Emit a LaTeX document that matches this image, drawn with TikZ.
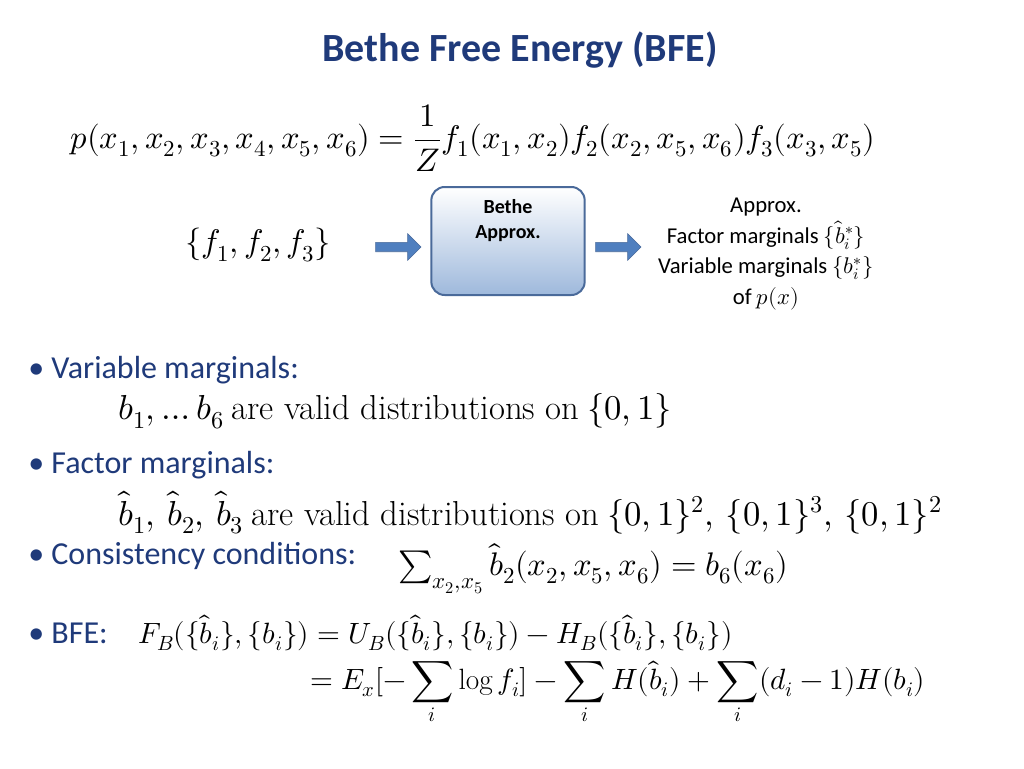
\documentclass[tikz,border=0pt]{standalone}
\usepackage{amsmath,amssymb}
\usepackage{fontspec}
\setmainfont{Carlito}
\usepackage{unicode-math}
\setmathfont{Latin Modern Math}
\setmathrm{Latin Modern Roman}
\newfontfamily\lmr{Latin Modern Roman}
\usetikzlibrary{shapes.arrows}
\definecolor{navy}{HTML}{1F3A7A}
\definecolor{boxedge}{HTML}{4A6A9A}
\definecolor{arr}{HTML}{4F7FBF}
\begin{document}
\begin{tikzpicture}[x=0.75pt,y=-0.75pt,
  mth/.style={anchor=west,inner sep=0pt,font=\fontsize{24.5}{28}\selectfont},
  mthb/.style={anchor=west,inner sep=0pt,font=\fontsize{26}{30}\selectfont},
  mths/.style={anchor=west,inner sep=0pt,font=\fontsize{22}{26}\selectfont},
  txt/.style={anchor=west,inner sep=0pt,font=\fontsize{24}{28}\selectfont,text=navy},
  small/.style={inner sep=0pt,font=\fontsize{17}{21}\selectfont},
  barrow/.style={single arrow,fill=arr,draw=boxedge,minimum height=34pt,minimum width=20pt,single arrow head extend=4pt,inner sep=2pt}]
\useasboundingbox (0,0) rectangle (1024,768);
\node[inner sep=0pt,text=navy,font=\bfseries\fontsize{30}{34}\selectfont] (title) at (520,50) {Bethe Free Energy (BFE)};
\node[mth] (p) at (70,138) {$p(x_1,x_2,x_3,x_4,x_5,x_6)=\dfrac{1}{Z}f_1(x_1,x_2)f_2(x_2,x_5,x_6)f_3(x_3,x_5)$};
\node[mth] (f) at (185,245) {$\{f_1,f_2,f_3\}$};
\node[draw=boxedge,line width=1.5pt,rounded corners=10pt,top color=white,bottom color=arr!55,minimum width=115pt,minimum height=81pt,align=center,font=\bfseries\fontsize{15}{19}\selectfont] (box) at (508,241) {Bethe\\Approx.\\[14pt]};
\node[barrow] (a1) at (396,247) {};
\node[barrow] (a2) at (616,247) {};
\node[small,align=center] (out) at (766,254) {Approx.\\[2pt]Factor marginals $\{\hat b_i^*\}$\\[2pt]Variable marginals $\{b_i^*\}$\\[2pt]of $p(x)$};
\node[txt] (v) at (28,370) {\textbullet\ Variable marginals:};
\node[mthb] (v2) at (118,411) {$b_1,\ldots b_6$ {\lmr are valid distributions on} $\{0,1\}$};
\node[txt] (fm) at (28,465) {\textbullet\ Factor marginals:};
\node[mthb] (fm2) at (118,513) {$\hat b_1,\,\hat b_2,\,\hat b_3$ {\lmr are valid distributions on} $\{0,1\}^2,\,\{0,1\}^3,\,\{0,1\}^2$};
\node[txt] (c) at (28,556) {\textbullet\ Consistency conditions:};
\node[mth] (c2) at (398,569) {$\sum_{x_2,x_5}\hat b_2(x_2,x_5,x_6)=b_6(x_6)$};
\node[txt] (b) at (28,633) {\textbullet\ BFE:};
\node[mths] (b1) at (138,633) {$F_B(\{\hat b_i\},\{b_i\})=U_B(\{\hat b_i\},\{b_i\})-H_B(\{\hat b_i\},\{b_i\})$};
\node[mths] (b2) at (310,693) {$=E_x[-\displaystyle\sum_i\log f_i]-\sum_i H(\hat b_i)+\sum_i(d_i-1)H(b_i)$};
\end{tikzpicture}
\end{document}
